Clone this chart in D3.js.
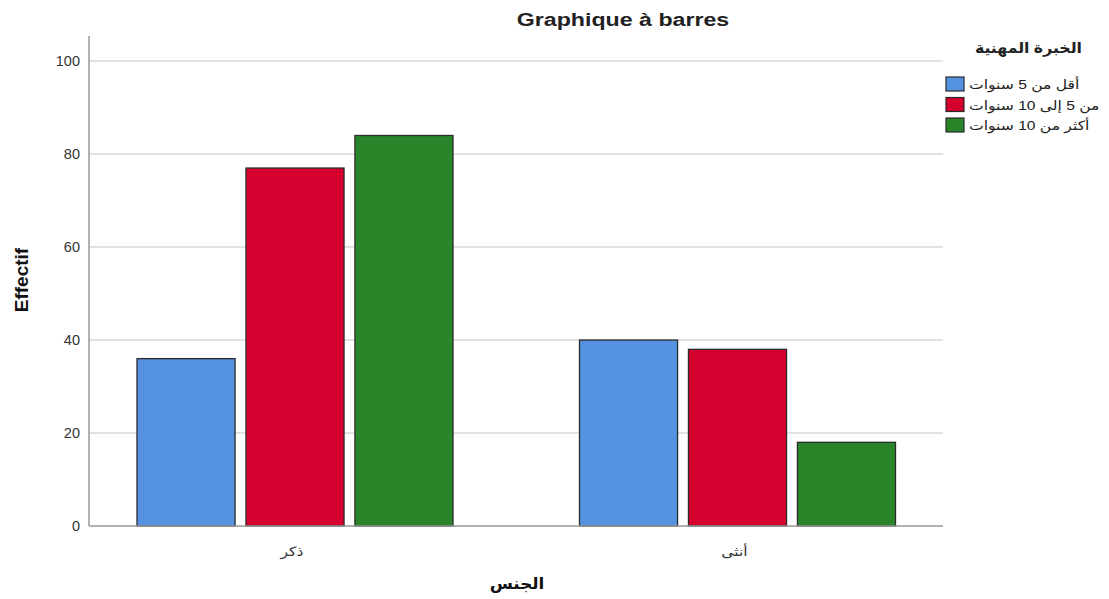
<!DOCTYPE html>
<html>
<head>
<meta charset="utf-8">
<script src="https://cdn.jsdelivr.net/npm/d3@7"></script>
<style>
  body { margin: 0; background: #fff; }
  text { font-family: "Liberation Sans", Arial, "DejaVu Sans", sans-serif; }
</style>
</head>
<body>
<svg id="chart" width="1109" height="599"></svg>
<script>
// data
var categories = ['ذكر', 'أنثى'];
var series = ['أقل من 5 سنوات', 'من 5 إلى 10 سنوات', 'أكثر من 10 سنوات'];
var lessThan5 = [36, 40];
var from5to10 = [77, 38];
var moreThan10 = [84, 18];
var yTicks = [0, 20, 40, 60, 80, 100];
var colors = ['#5592E2', '#D6002F', '#2A852A'];

var rows = categories.map(function(c, i){
  return { cat: c, vals: [lessThan5[i], from5to10[i], moreThan10[i]] };
});

var svg = d3.select('#chart');
var plot = { left: 89, right: 943, top: 36, bottom: 526 };
// the reference looks a bit wide, stretch text horizontally
var stretch = 1.2;

var y = d3.scaleLinear().domain([0, 105.4]).range([plot.bottom, plot.top]);
var x0 = d3.scaleBand().domain(categories).range([73.75, 958.75]);
var x1 = d3.scaleBand().domain(series).range([0, 316]).paddingInner(0.1);

// gridlines
svg.append('g')
  .selectAll('line')
  .data(yTicks.filter(function(t){ return t > 0; }))
  .enter().append('line')
  .attr('x1', plot.left).attr('x2', plot.right)
  .attr('y1', function(d){ return y(d); })
  .attr('y2', function(d){ return y(d); })
  .attr('stroke', '#d9d9d9')
  .attr('stroke-width', 1.5);

// y axis
var yAxis = svg.append('g')
  .attr('transform', 'translate(' + plot.left + ',0)')
  .call(d3.axisLeft(y).tickValues(yTicks).tickSize(0).tickPadding(9));
yAxis.select('.domain').remove();
yAxis.selectAll('text')
  .style('font-size', '14.5px')
  .attr('fill', '#333');

svg.append('line')
  .attr('x1', plot.left).attr('x2', plot.left)
  .attr('y1', plot.top).attr('y2', plot.bottom)
  .attr('stroke', '#999').attr('stroke-width', 1.5);

// bars
var groups = svg.append('g')
  .selectAll('g')
  .data(rows)
  .enter().append('g')
  .attr('transform', function(d){
    return 'translate(' + (x0(d.cat) + x0.bandwidth() / 2 - 158) + ',0)';
  });

groups.selectAll('rect')
  .data(function(d){
    return d.vals.map(function(v, i){ return { s: series[i], v: v, i: i }; });
  })
  .enter().append('rect')
  .attr('x', function(d){ return x1(d.s); })
  .attr('y', function(d){ return y(d.v); })
  .attr('width', x1.bandwidth())
  .attr('height', function(d){ return plot.bottom - y(d.v); })
  .attr('fill', function(d){ return colors[d.i]; })
  .attr('stroke', '#2b2b2b')
  .attr('stroke-width', 1.3);

// baseline
svg.append('line')
  .attr('x1', plot.left).attr('x2', plot.right)
  .attr('y1', plot.bottom).attr('y2', plot.bottom)
  .attr('stroke', '#999').attr('stroke-width', 1.5);

// category labels
svg.append('g')
  .selectAll('text')
  .data(categories)
  .enter().append('text')
  .attr('transform', function(d){
    return 'translate(' + (x0(d) + x0.bandwidth() / 2 - 3) + ',556) scale(' + stretch + ',1)';
  })
  .attr('text-anchor', 'middle')
  .style('font-size', '13px')
  .attr('fill', '#333')
  .text(function(d){ return d; });

// titles
svg.append('text')
  .attr('transform', 'translate(623,26) scale(1.22,1)')
  .attr('text-anchor', 'middle')
  .style('font-size', '19px').style('font-weight', 'bold')
  .attr('fill', '#222')
  .text('Graphique à barres');

svg.append('text')
  .attr('transform', 'translate(28,280) rotate(-90)')
  .attr('text-anchor', 'middle')
  .style('font-size', '19px').style('font-weight', 'bold')
  .attr('fill', '#111')
  .text('Effectif');

svg.append('text')
  .attr('transform', 'translate(517,589) scale(1.05,1)')
  .attr('text-anchor', 'middle')
  .style('font-size', '16px').style('font-weight', 'bold')
  .attr('fill', '#111')
  .text('الجنس');

// legend
svg.append('text')
  .attr('transform', 'translate(1082,53) scale(1.05,1)')
  .attr('text-anchor', 'end')
  .style('font-size', '15px').style('font-weight', 'bold')
  .attr('fill', '#222')
  .text('الخبرة المهنية');

var legend = svg.append('g')
  .selectAll('g')
  .data(series)
  .enter().append('g')
  .attr('transform', function(d, i){ return 'translate(946,' + (77 + i * 20.5) + ')'; });

legend.append('rect')
  .attr('width', 18).attr('height', 14)
  .attr('fill', function(d, i){ return colors[i]; })
  .attr('stroke', '#2b2b2b').attr('stroke-width', 1.2);

legend.append('text')
  .attr('transform', 'translate(23,12) scale(' + stretch + ',1)')
  .style('font-size', '13px')
  .attr('fill', '#222')
  .text(function(d){ return d; });
</script>
</body>
</html>
